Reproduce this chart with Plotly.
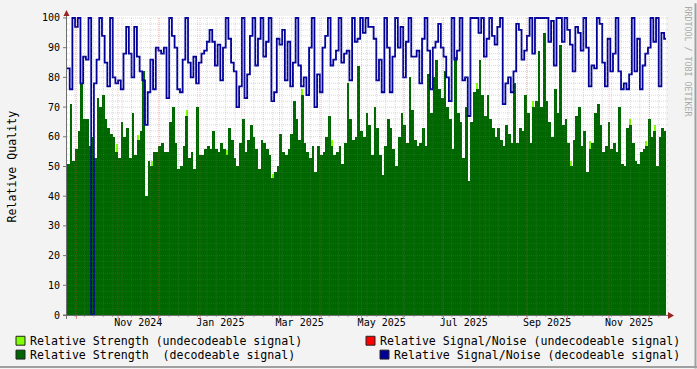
import plotly.graph_objects as go
import pandas as pd

# ---------------- data ----------------
start_date = "2024-09-24"
step_days = 2
x_end = "2025-12-13 10:00"

strength_decodeable = [
    51, 71, 52, 56, 62, 78, 66, 66, 57, 60, 53, 73, 70, 74, 66, 63, 61, 60, 55, 53,
    65, 60, 63, 53, 68, 54, 59, 62, 82, 40, 52, 50, 55, 55, 57, 58, 55, 55, 65, 70,
    58, 49, 50, 57, 67, 53, 55, 49, 70, 54, 54, 56, 57, 56,
    62, 56, 55, 58, 56, 54, 63, 59, 53, 50, 58, 66, 55, 59, 64, 60, 56, 49, 59, 58,
    56, 54, 46, 48, 50, 61, 55, 54, 56, 61, 72, 66, 59, 74, 58, 55, 53, 57, 48, 57,
    54, 55, 60, 67, 57, 54, 55, 57, 51, 58, 78, 66, 59, 60, 84, 62, 60,
    68, 64, 54, 70, 63, 54, 47, 57, 66, 63, 56, 50, 60, 68, 64, 58, 80, 69, 59, 57,
    58, 63, 57, 81, 68, 80, 86, 76, 73, 82, 70, 66, 56, 87, 68, 65, 53, 70, 45, 65,
    75, 76, 86, 74, 67, 74, 66, 63, 60, 63, 59, 57, 64, 61, 58, 78,
    58, 63, 62, 74, 68, 58, 70, 72, 89, 70, 95, 72, 65, 60, 76, 68, 91, 64, 66, 58,
    50, 59, 67, 70, 57, 62, 48, 56, 58, 68, 71, 64, 55, 57, 65, 56, 58, 55, 70, 51,
    50, 63, 64, 58, 52, 51, 55, 56, 57, 66, 60, 62, 50, 60, 63, 62,
]

snr_decodeable = [
    83, 76, 100, 97, 100, 78, 87, 86, 100, 0, 78, 86, 100, 94, 85, 77, 100, 80, 78, 79,
    76, 88, 97, 88, 80, 97, 87, 82, 79, 64, 75, 86, 76, 90, 89, 88, 90, 73, 100, 94,
    90, 76, 75, 86, 100, 85, 80, 87, 78, 85, 88, 89, 92, 96,
    92, 84, 91, 79, 90, 100, 93, 85, 82, 70, 77, 100, 73, 81, 94, 100, 84, 93, 100, 87,
    92, 100, 72, 75, 93, 91, 96, 79, 92, 77, 85, 100, 84, 77, 80, 74, 90, 100, 70, 81,
    75, 90, 94, 100, 84, 86, 89, 100, 85, 88, 89, 79, 100, 92, 93, 100, 95,
    100, 97, 97, 93, 79, 86, 75, 100, 90, 75, 87, 100, 90, 97, 80, 92, 100, 87, 87, 89,
    78, 93, 100, 89, 76, 90, 92, 98, 90, 87, 80, 72, 100, 86, 89, 100, 79, 80, 67, 100,
    100, 100, 95, 100, 87, 93, 100, 94, 91, 97, 100, 71, 78, 80, 75, 82,
    98, 96, 86, 89, 94, 100, 88, 100, 100, 100, 100, 100, 92, 99, 84, 100, 100, 92, 100, 96,
    91, 82, 97, 95, 89, 100, 90, 77, 84, 83, 100, 98, 85, 77, 93, 82, 88, 100, 82, 76,
    78, 76, 81, 100, 82, 93, 76, 84, 88, 90, 100, 92, 100, 77, 95, 93,
]

# undecodeable strength: small extra segments on top of some bars (slot index, extra value)
weak_slots = [18, 26, 31, 44, 59, 76, 87, 98, 152, 173, 187, 194, 209, 215, 218]
weak_extra = [2.5, 1.5, 2, 2, 1.5, 1.5, 2, 2, 2, 2, 2, 2.5, 2, 1.5, 2]

month_labels = ["Nov 2024", "Jan 2025", "Mar 2025", "May 2025", "Jul 2025", "Sep 2025", "Nov 2025"]
month_label_dates = ["2024-11-16", "2025-01-16", "2025-03-16", "2025-05-16",
                     "2025-07-16", "2025-09-16", "2025-11-16"]
y_ticks = list(range(0, 101, 10))

legend_items = [
    ("Relative Strength (undecodeable signal)", "#7FFF00"),
    ("Relative Strength  (decodeable signal)", "#006600"),
    ("Relative Signal/Noise (undecodeable signal)", "#FF0000"),
    ("Relative Signal/Noise (decodeable signal)", "#000099"),
]

# ---------------- geometry helpers ----------------
W, H = 697, 369
L, R, T, B = 67, 31, 13, 54
PW = W - L - R
PH = H - T - B


def px(xp):
    return (xp - L) / PW


def py(yp):
    return (H - B - yp) / PH


MONO = "DejaVu Sans Mono"

dates = pd.date_range(start_date, periods=len(strength_decodeable), freq=f"{step_days}D")
day_ms = 86400000

fig = go.Figure()
fig.add_bar(
    x=dates, y=strength_decodeable, width=step_days * day_ms, offset=0,
    marker=dict(color="#006600", line=dict(width=0)), hoverinfo="skip",
)
fig.add_bar(
    x=[dates[i] for i in weak_slots], y=weak_extra,
    base=[strength_decodeable[i] for i in weak_slots],
    width=day_ms, offset=day_ms / 2,
    marker=dict(color="#7FFF00", line=dict(width=0)), hoverinfo="skip",
)
snr_x = list(dates) + [dates[-1] + pd.Timedelta(days=step_days)]
snr_y = snr_decodeable + [snr_decodeable[-1]]
fig.add_scatter(
    x=snr_x, y=snr_y, mode="lines",
    line=dict(color="#000099", width=1.8, shape="hv"), hoverinfo="skip",
)

shapes = []
minor_col = "rgba(120,120,120,0.28)"
major_col = "rgba(230,70,70,0.30)"
# horizontal grid
for v in range(0, 101, 2):
    major = v % 10 == 0
    shapes.append(dict(type="line", layer="above", xref="paper", yref="y",
                       x0=px(67), x1=px(669), y0=v, y1=v,
                       line=dict(color=major_col if major else minor_col, width=1, dash="1px,1px")))
# vertical grid
month_starts = pd.date_range("2024-10-01", x_end, freq="MS")
week_starts = pd.date_range("2024-09-30", x_end, freq="7D")
for d in week_starts:
    shapes.append(dict(type="line", layer="above", xref="x", yref="paper",
                       x0=d, x1=d, y0=py(315), y1=py(15),
                       line=dict(color=minor_col, width=1, dash="1px,1px")))
    shapes.append(dict(type="line", layer="above", xref="x", yref="paper",
                       x0=d, x1=d, y0=py(317), y1=py(315),
                       line=dict(color="#a8a8a8", width=1)))
for d in month_starts:
    shapes.append(dict(type="line", layer="above", xref="x", yref="paper",
                       x0=d, x1=d, y0=py(315), y1=py(15),
                       line=dict(color=major_col, width=1, dash="1px,1px")))
    shapes.append(dict(type="line", layer="above", xref="x", yref="paper",
                       x0=d, x1=d, y0=py(319), y1=py(315),
                       line=dict(color="#e08080", width=1)))
# y tick marks
for v in y_ticks:
    shapes.append(dict(type="line", layer="above", xref="paper", yref="y",
                       x0=px(63), x1=px(67), y0=v, y1=v,
                       line=dict(color="#777", width=1)))
# axes
axis_col = "#6f6f6f"
shapes.append(dict(type="line", layer="above", xref="paper", yref="paper",
                   x0=px(63), x1=px(669), y0=py(315.5), y1=py(315.5),
                   line=dict(color=axis_col, width=1)))
shapes.append(dict(type="line", layer="above", xref="paper", yref="paper",
                   x0=px(66.5), x1=px(66.5), y0=py(319), y1=py(12),
                   line=dict(color=axis_col, width=1)))
arrow_col = "#992222"
shapes.append(dict(type="path", layer="above", xref="paper", yref="paper",
                   path=f"M {px(668)} {py(312)} L {px(674)} {py(315.5)} L {px(668)} {py(319)} Z",
                   fillcolor=arrow_col, line=dict(width=0)))
shapes.append(dict(type="path", layer="above", xref="paper", yref="paper",
                   path=f"M {px(63.5)} {py(13)} L {px(66.5)} {py(7)} L {px(69.5)} {py(13)} Z",
                   fillcolor=arrow_col, line=dict(width=0)))
# image frame
shapes.append(dict(type="line", xref="paper", yref="paper", layer="above",
                   x0=px(695.5), x1=px(695.5), y0=py(0), y1=py(369),
                   line=dict(color="#a0a0a0", width=2)))
shapes.append(dict(type="line", xref="paper", yref="paper", layer="above",
                   x0=px(0), x1=px(697), y0=py(367.5), y1=py(367.5),
                   line=dict(color="#a0a0a0", width=2)))

annotations = []
# legend
legend_pos = [(16, 341), (16, 355), (366, 341), (380, 355)]
for (text, col), (bx, by) in zip(legend_items, legend_pos):
    shapes.append(dict(type="rect", xref="paper", yref="paper", layer="above",
                       x0=px(bx), x1=px(bx + 9), y0=py(by - 4.5), y1=py(by + 4.5),
                       fillcolor=col, line=dict(color="#222", width=1)))
    annotations.append(dict(text=text, xref="paper", yref="paper", x=px(bx + 12), y=py(by),
                            xanchor="left", yanchor="middle", showarrow=False,
                            font=dict(family=MONO, size=11.6, color="#000")))
# axis title
annotations.append(dict(text="Relative Quality", xref="paper", yref="paper",
                        x=px(12), y=py(165), textangle=-90, showarrow=False,
                        xanchor="center", yanchor="middle",
                        font=dict(family=MONO, size=11.6, color="#000")))
# watermark
annotations.append(dict(text="RRDTOOL / TOBI OETIKER", xref="paper", yref="paper",
                        x=px(688), y=py(59), textangle=90, showarrow=False,
                        xanchor="center", yanchor="middle",
                        font=dict(family=MONO, size=8.3, color="#aaaaaa")))

fig.update_layout(
    width=W, height=H,
    margin=dict(l=L, r=R, t=T, b=B, pad=0),
    paper_bgcolor="#F3F3F3", plot_bgcolor="#FFFFFF",
    showlegend=False, barmode="overlay", bargap=0,
    font=dict(family=MONO, size=10, color="#000"),
    xaxis=dict(type="date", range=[start_date, x_end], tickmode="array",
               tickvals=month_label_dates, ticktext=month_labels,
               showgrid=False, zeroline=False, showline=False, ticks="",
               tickfont=dict(family=MONO, size=10)),
    yaxis=dict(range=[0, PH / 3], tickmode="array", tickvals=y_ticks,
               showgrid=False, zeroline=False, showline=False, ticks="outside",
               ticklen=4, tickcolor="rgba(0,0,0,0)",
               tickfont=dict(family=MONO, size=10)),
    shapes=shapes, annotations=annotations,
)

fig.write_html("out.html")
